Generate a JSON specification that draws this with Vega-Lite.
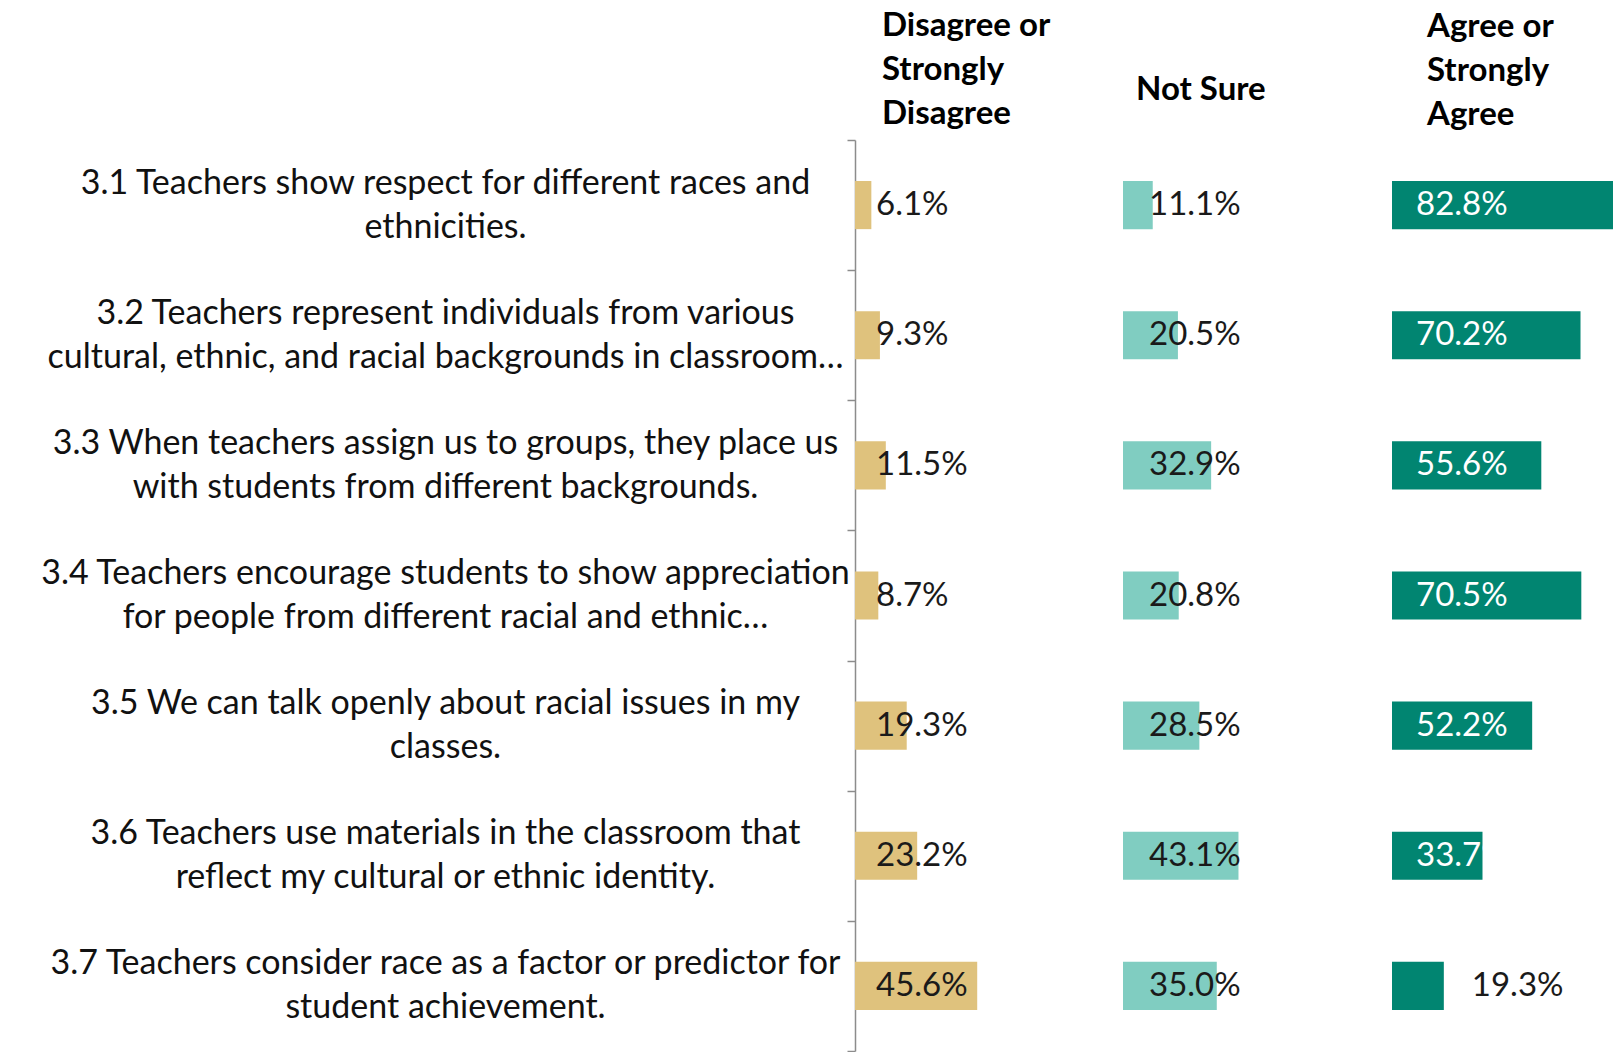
{
  "$schema": "https://vega.github.io/schema/vega-lite/v6.json",
  "autosize": {"type": "pad"},
  "padding": {"left": 39, "top": 10, "right": 0, "bottom": 0},
  "background": "#ffffff",
  "config": {"view": {"stroke": null}, "font": "Lato", "concat": {"spacing": 0}},
  "spacing": 0,
  "resolve": {"scale": {"y": "shared", "x": "independent"}},
  "datasets": {
    "survey": [
      {"item": "3.1 Teachers show respect for different races and|ethnicities.", "response": "Disagree", "pct": 0.061},
      {"item": "3.1 Teachers show respect for different races and|ethnicities.", "response": "Not Sure", "pct": 0.111},
      {"item": "3.1 Teachers show respect for different races and|ethnicities.", "response": "Agree", "pct": 0.828},
      {"item": "3.2 Teachers represent individuals from various|cultural, ethnic, and racial backgrounds in classroom…", "response": "Disagree", "pct": 0.093},
      {"item": "3.2 Teachers represent individuals from various|cultural, ethnic, and racial backgrounds in classroom…", "response": "Not Sure", "pct": 0.205},
      {"item": "3.2 Teachers represent individuals from various|cultural, ethnic, and racial backgrounds in classroom…", "response": "Agree", "pct": 0.702},
      {"item": "3.3 When teachers assign us to groups, they place us|with students from different backgrounds.", "response": "Disagree", "pct": 0.115},
      {"item": "3.3 When teachers assign us to groups, they place us|with students from different backgrounds.", "response": "Not Sure", "pct": 0.329},
      {"item": "3.3 When teachers assign us to groups, they place us|with students from different backgrounds.", "response": "Agree", "pct": 0.556},
      {"item": "3.4 Teachers encourage students to show appreciation|for people from different racial and ethnic…", "response": "Disagree", "pct": 0.087},
      {"item": "3.4 Teachers encourage students to show appreciation|for people from different racial and ethnic…", "response": "Not Sure", "pct": 0.208},
      {"item": "3.4 Teachers encourage students to show appreciation|for people from different racial and ethnic…", "response": "Agree", "pct": 0.705},
      {"item": "3.5 We can talk openly about racial issues in my|classes.", "response": "Disagree", "pct": 0.193},
      {"item": "3.5 We can talk openly about racial issues in my|classes.", "response": "Not Sure", "pct": 0.285},
      {"item": "3.5 We can talk openly about racial issues in my|classes.", "response": "Agree", "pct": 0.522},
      {"item": "3.6 Teachers use materials in the classroom that|reflect my cultural or ethnic identity.", "response": "Disagree", "pct": 0.232},
      {"item": "3.6 Teachers use materials in the classroom that|reflect my cultural or ethnic identity.", "response": "Not Sure", "pct": 0.431},
      {"item": "3.6 Teachers use materials in the classroom that|reflect my cultural or ethnic identity.", "response": "Agree", "pct": 0.337},
      {"item": "3.7 Teachers consider race as a factor or predictor for|student achievement.", "response": "Disagree", "pct": 0.456},
      {"item": "3.7 Teachers consider race as a factor or predictor for|student achievement.", "response": "Not Sure", "pct": 0.350},
      {"item": "3.7 Teachers consider race as a factor or predictor for|student achievement.", "response": "Agree", "pct": 0.193}
    ]
  },
  "hconcat": [
    {
      "width": 268,
      "height": 911,
      "data": {"name": "survey"},
      "transform": [{"filter": "datum.response === 'Disagree'"}],
      "title": {"text": ["Disagree or", "Strongly", "Disagree"], "anchor": "start", "frame": "group", "dx": 27, "font": "Lato", "fontSize": 33, "fontWeight": "bold", "lineHeight": 44, "color": "#000000", "offset": -8},
      "layer": [
        {
          "mark": {"type": "bar", "color": "#dfc27d", "height": {"band": 0.37}},
          "encoding": {
            "y": {"field": "item", "type": "nominal", "sort": null,
              "scale": {"paddingInner": 0, "paddingOuter": 0},
              "axis": {"title": null, "labelExpr": "split(datum.label, '|')", "labelAlign": "center", "labelBaseline": "middle", "labelOffset": -22, "labelPadding": 402, "labelLimit": 1200, "labelOverlap": false, "labelFont": "Lato", "labelFontSize": 34, "labelLineHeight": 44, "labelColor": "#111111", "tickBand": "extent", "tickSize": 8, "tickColor": "#8c8c8c", "tickWidth": 1.5, "domainColor": "#8c8c8c", "domainWidth": 1.5}},
            "x": {"field": "pct", "type": "quantitative", "scale": {"domain": [0, 1], "nice": false}, "axis": null}
          }
        },
        {
          "mark": {"type": "text", "align": "left", "baseline": "middle", "dx": 21, "font": "Lato", "fontSize": 33, "color": "#1a1a1a"},
          "encoding": {
            "y": {"field": "item", "type": "nominal", "sort": null},
            "x": {"datum": 0},
            "text": {"field": "pct", "type": "quantitative", "format": ".1%"}
          }
        }
      ]
    },
    {
      "width": 269,
      "height": 911,
      "data": {"name": "survey"},
      "transform": [{"filter": "datum.response === 'Not Sure'"}],
      "title": {"text": "Not Sure", "anchor": "start", "frame": "group", "dx": 13, "font": "Lato", "fontSize": 33, "fontWeight": "bold", "lineHeight": 44, "color": "#000000", "offset": 33},
      "layer": [
        {
          "mark": {"type": "bar", "color": "#80cdc1", "height": {"band": 0.37}},
          "encoding": {
            "y": {"field": "item", "type": "nominal", "sort": null, "axis": null},
            "x": {"field": "pct", "type": "quantitative", "scale": {"domain": [0, 1.004], "nice": false}, "axis": null}
          }
        },
        {
          "mark": {"type": "text", "align": "left", "baseline": "middle", "dx": 26, "font": "Lato", "fontSize": 33, "color": "#1a1a1a"},
          "encoding": {
            "y": {"field": "item", "type": "nominal", "sort": null, "axis": null},
            "x": {"datum": 0},
            "text": {"field": "pct", "type": "quantitative", "format": ".1%"}
          }
        }
      ]
    },
    {
      "width": 221,
      "height": 911,
      "data": {"name": "survey"},
      "transform": [{"filter": "datum.response === 'Agree'"}],
      "title": {"text": ["Agree or", "Strongly", "Agree"], "anchor": "start", "frame": "group", "dx": 35, "font": "Lato", "fontSize": 33, "fontWeight": "bold", "lineHeight": 44, "color": "#000000", "offset": 8},
      "layer": [
        {
          "mark": {"type": "bar", "color": "#018571", "clip": true, "height": {"band": 0.37}},
          "encoding": {
            "y": {"field": "item", "type": "nominal", "sort": null, "axis": null},
            "x": {"field": "pct", "type": "quantitative", "scale": {"domain": [0, 0.823], "nice": false}, "axis": null}
          }
        },
        {
          "transform": [{"filter": "datum.pct >= 0.25"}],
          "mark": {"type": "text", "align": "left", "baseline": "middle", "dx": 24, "font": "Lato", "fontSize": 33, "color": "#ffffff"},
          "encoding": {
            "y": {"field": "item", "type": "nominal", "sort": null, "axis": null},
            "x": {"datum": 0},
            "text": {"field": "pct", "type": "quantitative", "format": ".1%"}
          }
        },
        {
          "transform": [{"filter": "datum.pct < 0.25"}],
          "mark": {"type": "text", "align": "left", "baseline": "middle", "dx": 28, "font": "Lato", "fontSize": 33, "color": "#1a1a1a"},
          "encoding": {
            "y": {"field": "item", "type": "nominal", "sort": null, "axis": null},
            "x": {"field": "pct", "type": "quantitative"},
            "text": {"field": "pct", "type": "quantitative", "format": ".1%"}
          }
        }
      ]
    }
  ]
}
